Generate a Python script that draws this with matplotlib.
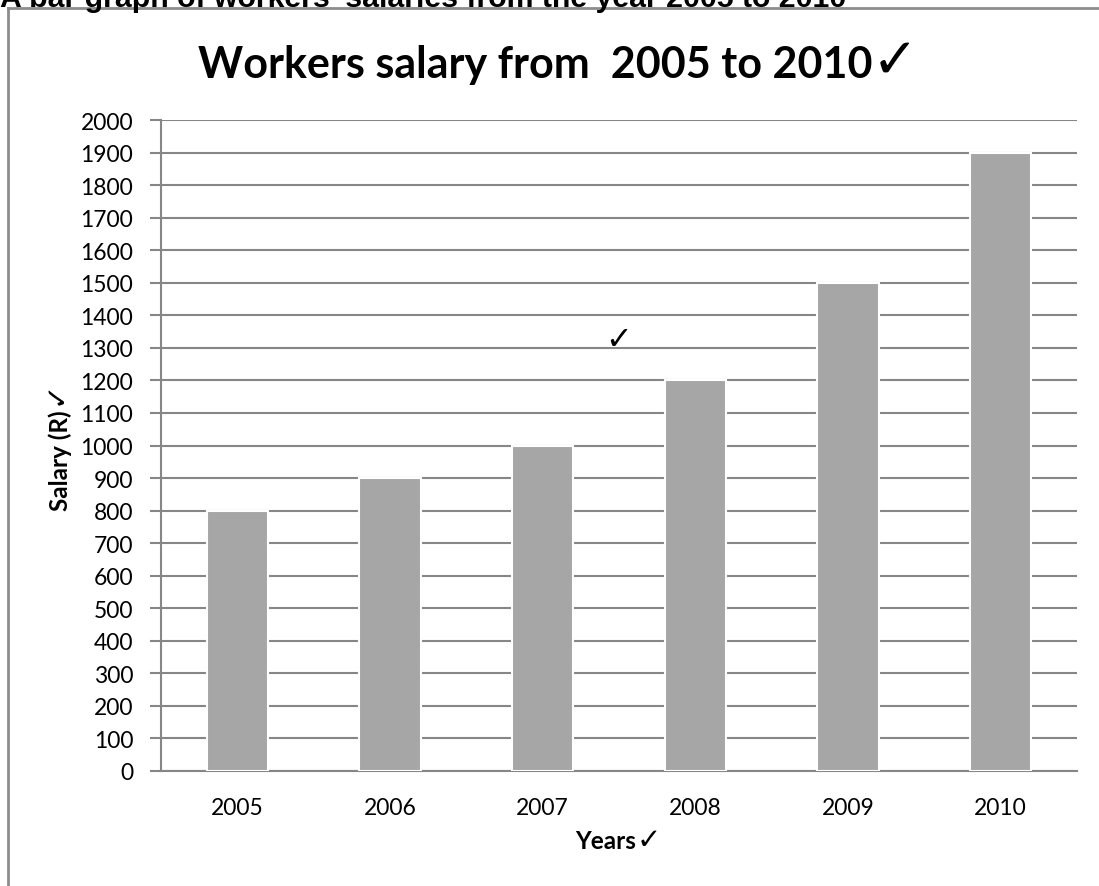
import matplotlib
matplotlib.use("Agg")
import matplotlib.pyplot as plt
from matplotlib.lines import Line2D

years = ["2005", "2006", "2007", "2008", "2009", "2010"]
salaries = [800, 900, 1000, 1200, 1500, 1900]
yticks = list(range(0, 2001, 100))

W, H = 1099, 887
fig = plt.figure(figsize=(W / 100, H / 100), dpi=100)
fig.patch.set_facecolor("white")

FONT = ["Lato", "DejaVu Sans"]
CHECK = ["DejaVu Sans"]
GRID = "#868686"

# outer chart border (left and top visible)
fig.add_artist(Line2D([8 / W, 8 / W], [0, 1 - 9 / H], transform=fig.transFigure,
                      color="#8c8c8c", lw=2))
fig.add_artist(Line2D([8 / W, 1], [1 - 9 / H, 1 - 9 / H], transform=fig.transFigure,
                      color="#8c8c8c", lw=2))

# cropped caption at the very top
fig.text(0.0, 1 - 7 / H, "A bar graph of workers' salaries from the year 2005 to 2010",
         fontsize=21.8, fontweight="bold", family=["Liberation Sans", "DejaVu Sans"],
         ha="left", va="baseline")

ax = fig.add_axes([161 / W, 1 - 772 / H, (1077 - 161) / W, (772 - 121) / H])
x = list(range(len(years)))
ax.bar(x, salaries, width=0.4, color="#a6a6a6", edgecolor="white", linewidth=1.5,
       zorder=3)
ax.set_xlim(-0.5, len(years) - 0.5)
ax.set_ylim(0, 2000)
ax.set_yticks(yticks)
ax.set_yticklabels([str(v) for v in yticks], family=FONT, fontsize=16.5)
ax.set_xticks(x)
ax.set_xticklabels(years, family=FONT, fontsize=16.5)
ax.tick_params(axis="y", length=8, width=1.5, color=GRID, pad=12)
ax.tick_params(axis="x", length=0, pad=19)
ax.yaxis.grid(True, color=GRID, lw=1.5, zorder=0)
ax.set_axisbelow(True)
for s in ["top", "right"]:
    ax.spines[s].set_visible(False)
ax.spines["left"].set_color(GRID)
ax.spines["left"].set_linewidth(1.5)
ax.spines["bottom"].set_color(GRID)
ax.spines["bottom"].set_linewidth(1.5)

renderer = fig.canvas.get_renderer()


def label_with_check(xpx, ypx, text, size, csize, rotation=0, gap=0):
    """Draw bold text centred at (xpx, ypx) pixels followed by a larger check mark."""
    if rotation == 0:
        t = fig.text(0, 0, text, family=FONT, fontsize=size, fontweight="bold",
                     ha="left", va="baseline")
        c = fig.text(0, 0, "\u2713", family=CHECK, fontsize=csize, ha="left",
                     va="baseline")
        bt = t.get_window_extent(renderer)
        bc = c.get_window_extent(renderer)
        total = bt.width + gap + bc.width
        x0 = xpx - total / 2
        ybase = H - ypx
        t.set_position((x0 / W, ybase / H))
        c.set_position(((x0 + bt.width + gap) / W, ybase / H))
    else:
        t = fig.text(0, 0, text, family=FONT, fontsize=size, fontweight="bold",
                     ha="center", va="bottom", rotation=90)
        c = fig.text(0, 0, "\u2713", family=CHECK, fontsize=csize, ha="center",
                     va="bottom", rotation=90)
        bt = t.get_window_extent(renderer)
        bc = c.get_window_extent(renderer)
        total = bt.height + gap + bc.height
        y0 = (H - ypx) - total / 2
        t.set_position((xpx / W, y0 / H))
        c.set_position(((xpx - 4) / W, (y0 + bt.height + gap) / H))


# title with check
label_with_check(558, 78, "Workers salary from  2005 to 2010", 31, 40, gap=0)
# x label
label_with_check(618, 849, "Years", 17.5, 21, gap=0)
# y label (rotated)
label_with_check(60, 446, "Salary (R) ", 17.5, 21, rotation=90, gap=0)

ax.text(0.5, 1327, "\u2713", family=CHECK, fontsize=23,
        transform=ax.get_yaxis_transform(), ha="center", va="center")

fig.savefig("out.png", dpi=100)
